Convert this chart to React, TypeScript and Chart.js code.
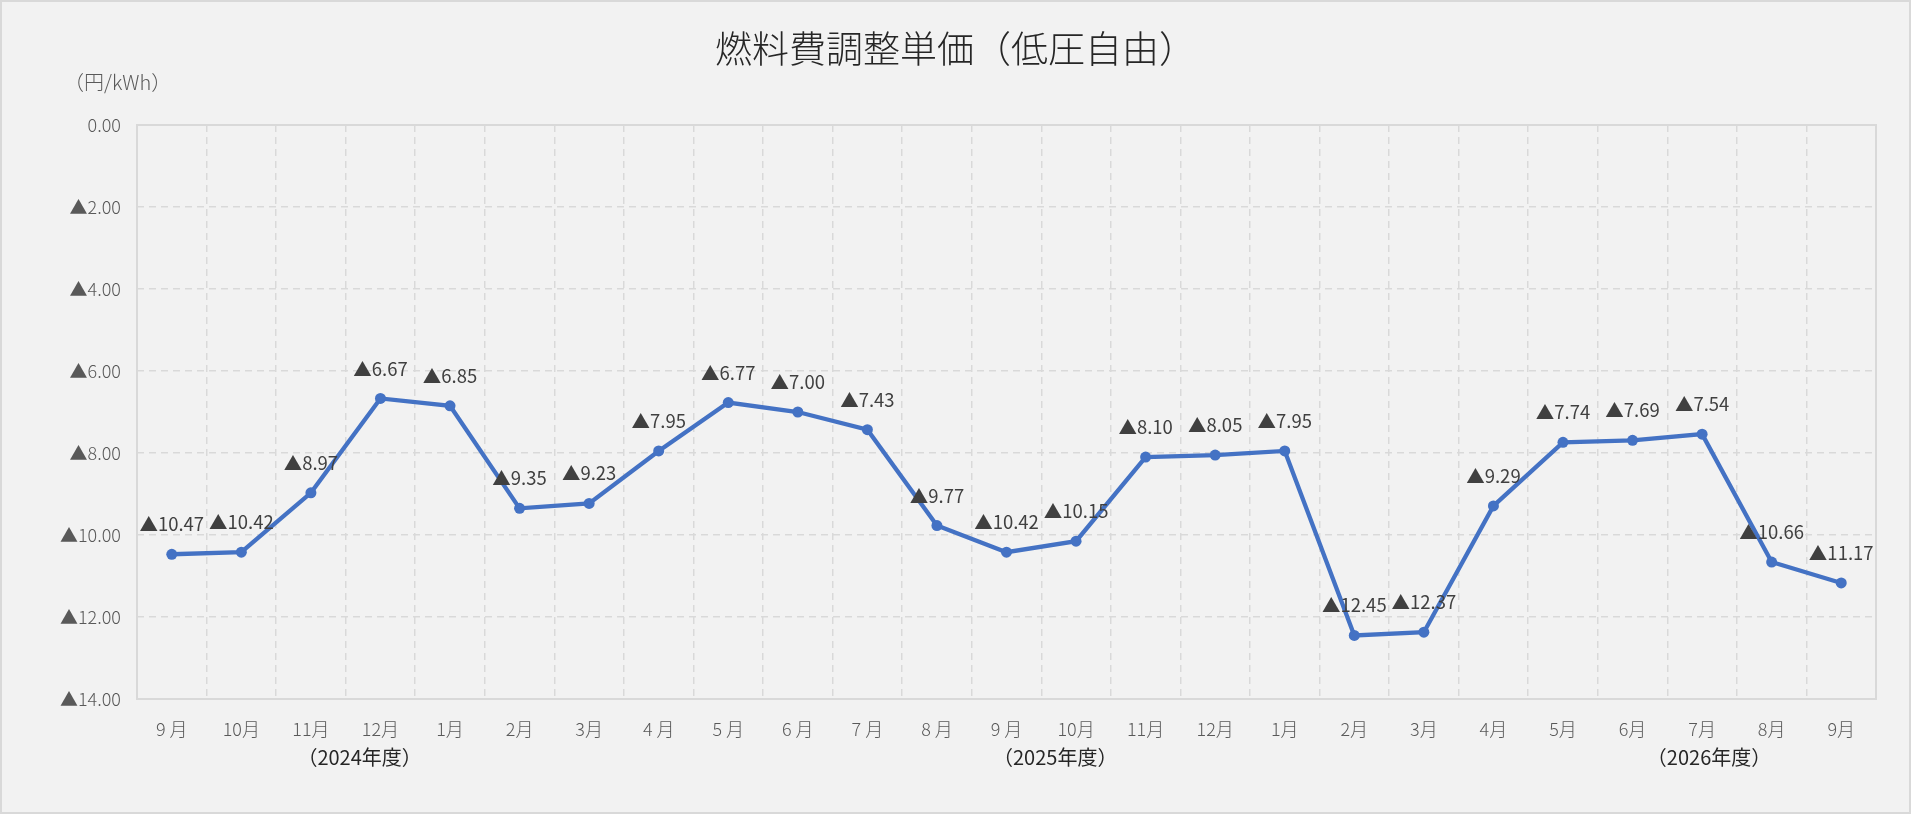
import { useEffect, useRef } from "react"
import { Chart, registerables, type ChartConfiguration, type Plugin } from "chart.js"

Chart.register(...registerables)

const months = [
  "9 月", "10月", "11月", "12月", "1月", "2月", "3月",
  "4 月", "5 月", "6 月", "7 月", "8 月", "9 月", "10月", "11月", "12月", "1月", "2月", "3月",
  "4月", "5月", "6月", "7月", "8月", "9月",
]

// 燃料費調整単価 (▲ = マイナス)
const unitPrice = [
  -10.47, -10.42, -8.97, -6.67, -6.85, -9.35, -9.23,
  -7.95, -6.77, -7.0, -7.43, -9.77, -10.42, -10.15, -8.1, -8.05, -7.95, -12.45, -12.37,
  -9.29, -7.74, -7.69, -7.54, -10.66, -11.17,
]

const fiscalYears = ["（2024年度）", "（2025年度）", "（2026年度）"]
const fiscalYearAt = [2.7, 12.7, 22.1]

const yTicks = [0, -2, -4, -6, -8, -10, -12, -14]

const FONT = "'Noto Sans CJK JP', 'Noto Sans', sans-serif"

const fmt = (v: number) => (v < 0 ? "▲" + Math.abs(v).toFixed(2) : v.toFixed(2))

const decorations: Plugin = {
  id: "decorations",
  beforeDatasetsDraw(chart) {
    const { ctx, chartArea } = chart
    ctx.save()
    ctx.strokeStyle = "#d9d9d9"
    ctx.lineWidth = 2
    ctx.strokeRect(chartArea.left, chartArea.top, chartArea.right - chartArea.left, chartArea.bottom - chartArea.top)
    ctx.restore()
  },
  afterDatasetsDraw(chart) {
    const { ctx, chartArea } = chart
    const xScale = chart.scales.x
    ctx.save()
    // data labels
    ctx.font = `18.5px ${FONT}`
    ctx.fillStyle = "#404040"
    ctx.textAlign = "center"
    ctx.textBaseline = "middle"
    chart.getDatasetMeta(0).data.forEach((pt, i) => {
      ctx.fillText(fmt(unitPrice[i]), pt.x, pt.y - 30)
    })
    // title
    ctx.font = `300 37px ${FONT}`
    ctx.fillStyle = "#262626"
    ctx.fillText("燃料費調整単価（低圧自由）", chart.width / 2, 47)
    // unit
    ctx.font = `300 20px ${FONT}`
    ctx.fillStyle = "#595959"
    ctx.textAlign = "left"
    ctx.fillText("（円/kWh）", 62, 80)
    // fiscal year labels
    ctx.font = `20px ${FONT}`
    ctx.fillStyle = "#262626"
    ctx.textAlign = "center"
    fiscalYears.forEach((label, i) => {
      ctx.fillText(label, xScale.getPixelForValue(fiscalYearAt[i]), chartArea.bottom + 58)
    })
    ctx.restore()
  },
}

export default function App() {
  const chartRef = useRef<HTMLCanvasElement>(null)
  const chartInstance = useRef<Chart | null>(null)

  useEffect(() => {
    if (!chartRef.current) return
    if (chartInstance.current) chartInstance.current.destroy()

    const config: ChartConfiguration = {
      type: "line",
      data: {
        labels: months,
        datasets: [
          {
            label: "燃料費調整単価",
            data: unitPrice,
            borderColor: "#4472C4",
            backgroundColor: "#4472C4",
            borderWidth: 4.3,
            pointRadius: 5.5,
            pointBorderWidth: 0,
            pointBackgroundColor: "#4472C4",
            tension: 0,
          },
        ],
      },
      options: {
        responsive: true,
        maintainAspectRatio: false,
        animation: false,
        layout: { padding: { top: 123, right: 33, left: 0, bottom: 0 } },
        plugins: {
          legend: { display: false },
          title: { display: false },
          tooltip: { enabled: false },
        },
        scales: {
          x: {
            offset: true,
            grid: { offset: true, color: "#d9d9d9", lineWidth: 1.5, drawTicks: false },
            border: { display: false, dash: [7, 5] },
            ticks: {
              color: "#595959",
              font: { family: FONT, size: 18, weight: 300 },
              padding: 19,
              maxRotation: 0,
              autoSkip: false,
            },
            afterFit(scale) {
              scale.height = 113
            },
          },
          y: {
            min: -14,
            max: 0,
            afterBuildTicks(scale) {
              scale.ticks = yTicks.map((v) => ({ value: v }))
            },
            grid: { color: "#d9d9d9", lineWidth: 1.5, drawTicks: false },
            border: { display: false, dash: [7, 5] },
            ticks: {
              color: "#595959",
              font: { family: FONT, size: 18, weight: 300 },
              padding: 16,
              callback: (v) => fmt(Number(v)),
            },
            afterFit(scale) {
              scale.width = 135
            },
          },
        },
      },
      plugins: [decorations],
    }

    chartInstance.current = new Chart(chartRef.current, config)

    return () => {
      if (chartInstance.current) {
        chartInstance.current.destroy()
        chartInstance.current = null
      }
    }
  }, [])

  return (
    <div
      style={{
        position: "fixed",
        left: 0,
        top: 0,
        width: 1911,
        height: 814,
        background: "#f2f2f2",
        border: "2px solid #d9d9d9",
        boxSizing: "border-box",
      }}
    >
      <canvas ref={chartRef}></canvas>
    </div>
  )
}
